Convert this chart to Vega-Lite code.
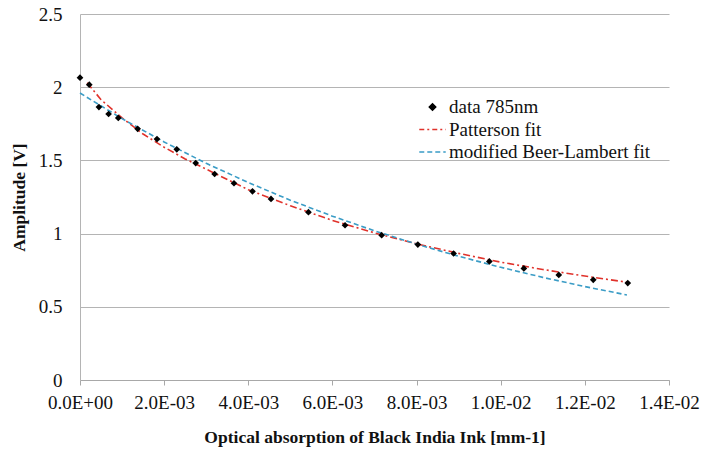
{
  "$schema": "https://vega.github.io/schema/vega-lite/v6.json",
  "width": 589,
  "height": 366,
  "autosize": {"type": "none"},
  "padding": {"left": 80, "top": 14, "right": 35, "bottom": 69},
  "background": "white",
  "config": {
    "view": {"stroke": null},
    "font": "Liberation Serif",
    "axis": {"labelColor": "#111", "titleColor": "#111"}
  },
  "datasets": {
    "pts": [
      {"x": 0, "y": 2.065, "series": "data 785nm"},
      {"x": 0.00022, "y": 2.017, "series": "data 785nm"},
      {"x": 0.00045, "y": 1.864, "series": "data 785nm"},
      {"x": 0.00068, "y": 1.817, "series": "data 785nm"},
      {"x": 0.00091, "y": 1.79, "series": "data 785nm"},
      {"x": 0.00137, "y": 1.716, "series": "data 785nm"},
      {"x": 0.00183, "y": 1.646, "series": "data 785nm"},
      {"x": 0.0023, "y": 1.576, "series": "data 785nm"},
      {"x": 0.00275, "y": 1.482, "series": "data 785nm"},
      {"x": 0.0032, "y": 1.407, "series": "data 785nm"},
      {"x": 0.00366, "y": 1.344, "series": "data 785nm"},
      {"x": 0.0041, "y": 1.289, "series": "data 785nm"},
      {"x": 0.00454, "y": 1.237, "series": "data 785nm"},
      {"x": 0.00543, "y": 1.146, "series": "data 785nm"},
      {"x": 0.0063, "y": 1.057, "series": "data 785nm"},
      {"x": 0.00717, "y": 0.989, "series": "data 785nm"},
      {"x": 0.00803, "y": 0.925, "series": "data 785nm"},
      {"x": 0.00888, "y": 0.864, "series": "data 785nm"},
      {"x": 0.00973, "y": 0.81, "series": "data 785nm"},
      {"x": 0.01055, "y": 0.762, "series": "data 785nm"},
      {"x": 0.01138, "y": 0.718, "series": "data 785nm"},
      {"x": 0.0122, "y": 0.684, "series": "data 785nm"},
      {"x": 0.01302, "y": 0.662, "series": "data 785nm"}
    ],
    "fits": [
      {"x": 0.00017, "y": 2.03, "series": "Patterson fit"},
      {"x": 0.0005, "y": 1.915, "series": "Patterson fit"},
      {"x": 0.001, "y": 1.79, "series": "Patterson fit"},
      {"x": 0.0015, "y": 1.68, "series": "Patterson fit"},
      {"x": 0.002, "y": 1.59, "series": "Patterson fit"},
      {"x": 0.0025, "y": 1.51, "series": "Patterson fit"},
      {"x": 0.003, "y": 1.44, "series": "Patterson fit"},
      {"x": 0.004, "y": 1.3, "series": "Patterson fit"},
      {"x": 0.005, "y": 1.19, "series": "Patterson fit"},
      {"x": 0.006, "y": 1.09, "series": "Patterson fit"},
      {"x": 0.007, "y": 1.005, "series": "Patterson fit"},
      {"x": 0.008, "y": 0.93, "series": "Patterson fit"},
      {"x": 0.009, "y": 0.865, "series": "Patterson fit"},
      {"x": 0.01, "y": 0.805, "series": "Patterson fit"},
      {"x": 0.011, "y": 0.755, "series": "Patterson fit"},
      {"x": 0.012, "y": 0.71, "series": "Patterson fit"},
      {"x": 0.013, "y": 0.668, "series": "Patterson fit"},
      {"x": 0, "y": 1.96, "series": "modified Beer-Lambert fit"},
      {"x": 0.001, "y": 1.785, "series": "modified Beer-Lambert fit"},
      {"x": 0.002, "y": 1.626, "series": "modified Beer-Lambert fit"},
      {"x": 0.003, "y": 1.48, "series": "modified Beer-Lambert fit"},
      {"x": 0.004, "y": 1.349, "series": "modified Beer-Lambert fit"},
      {"x": 0.005, "y": 1.228, "series": "modified Beer-Lambert fit"},
      {"x": 0.006, "y": 1.119, "series": "modified Beer-Lambert fit"},
      {"x": 0.007, "y": 1.019, "series": "modified Beer-Lambert fit"},
      {"x": 0.008, "y": 0.928, "series": "modified Beer-Lambert fit"},
      {"x": 0.009, "y": 0.845, "series": "modified Beer-Lambert fit"},
      {"x": 0.01, "y": 0.77, "series": "modified Beer-Lambert fit"},
      {"x": 0.011, "y": 0.701, "series": "modified Beer-Lambert fit"},
      {"x": 0.012, "y": 0.638, "series": "modified Beer-Lambert fit"},
      {"x": 0.013, "y": 0.581, "series": "modified Beer-Lambert fit"}
    ]
  },
  "encoding": {
    "x": {
      "field": "x", "type": "quantitative",
      "scale": {"domain": [0, 0.014], "nice": false, "zero": true},
      "axis": {
        "values": [0, 0.002, 0.004, 0.006, 0.008, 0.01, 0.012, 0.014],
        "labelExpr": "datum.value === 0 ? '0.0E+00' : format(datum.value / pow(10, floor(log(datum.value)/LN10 + 1e-9)), '.1f') + 'E-0' + (-floor(log(datum.value)/LN10 + 1e-9))",
        "title": "Optical absorption of Black India Ink [mm-1]",
        "titleFont": "Liberation Serif",
        "titleFontSize": 17.5, "titleFontWeight": "bold", "titlePadding": 16,
        "labelFont": "Liberation Serif", "labelFontWeight": 400,
        "labelFontSize": 19, "labelPadding": 8,
        "grid": false, "domainColor": "#a8a8a8", "tickColor": "#a8a8a8", "tickSize": 5,
        "labelFlush": false
      }
    },
    "y": {
      "field": "y", "type": "quantitative",
      "scale": {"domain": [0, 2.5], "nice": false},
      "axis": {
        "values": [0, 0.5, 1, 1.5, 2, 2.5],
        "format": "~g",
        "title": "Amplitude [V]",
        "titleFont": "Liberation Serif",
        "titleFontSize": 17.5, "titleFontWeight": "bold", "titlePadding": 10,
        "labelFont": "Liberation Serif", "labelFontWeight": 400,
        "labelFontSize": 19, "labelPadding": 18, "ticks": false,
        "gridColor": "#b4b4b4", "gridWidth": 1.2, "domainColor": "#b4b4b4"
      }
    },
    "color": {
      "field": "series", "type": "nominal",
      "scale": {
        "domain": ["data 785nm", "Patterson fit", "modified Beer-Lambert fit"],
        "range": ["#000000", "#e0322b", "#3a9cc6"]
      },
      "legend": {
        "title": null,
        "orient": "none", "legendX": 338, "legendY": 84,
        "labelFont": "Liberation Serif", "labelFontWeight": 400,
        "labelFontSize": 19, "labelColor": "#111", "labelLimit": 400,
        "rowPadding": 3.5, "clipHeight": 18, "padding": 0, "symbolStrokeWidth": 1.6, "labelOffset": 2,
        "encode": {
          "symbols": {
            "update": {
              "shape": {"signal": "datum.value === 'data 785nm' ? 'diamond' : 'stroke'"},
              "size": {"signal": "datum.value === 'data 785nm' ? 40 : 700"},
              "fill": {"signal": "datum.value === 'data 785nm' ? '#000000' : 'transparent'"},
              "stroke": {"signal": "datum.value === 'data 785nm' ? '#000000' : (datum.value === 'Patterson fit' ? '#e0322b' : '#3a9cc6')"},
              "strokeDash": {"signal": "datum.value === 'Patterson fit' ? [5,3,2,3] : (datum.value === 'modified Beer-Lambert fit' ? [5,3] : [])"},
              "strokeWidth": {"value": 1.6},
              "opacity": {"value": 1}
            }
          }
        }
      }
    }
  },
  "layer": [
    {
      "data": {"name": "fits"},
      "mark": {"type": "line", "strokeWidth": 1.6},
      "encoding": {
        "strokeDash": {
          "field": "series", "type": "nominal",
          "scale": {"domain": ["Patterson fit", "modified Beer-Lambert fit"], "range": [[7, 3, 2, 3], [5, 3]]},
          "legend": null
        }
      }
    },
    {
      "data": {"name": "pts"},
      "mark": {"type": "point", "shape": "diamond", "filled": true, "size": 45, "opacity": 1}
    }
  ]
}
